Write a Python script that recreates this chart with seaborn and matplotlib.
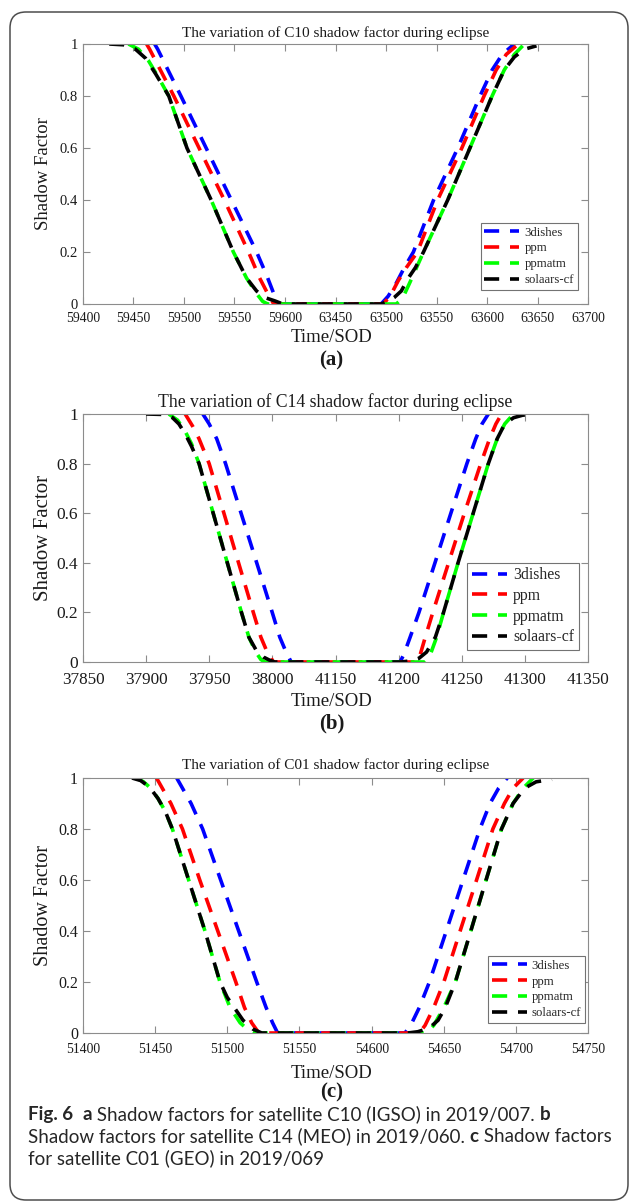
import numpy as np
import matplotlib
matplotlib.use("Agg")
import matplotlib.pyplot as plt
import seaborn as sns
from matplotlib.patches import FancyBboxPatch

# ---------------------------------------------------------------- data
MODELS = ["3dishes", "ppm", "ppmatm", "solaars-cf"]
COLORS = ["#0000ff", "#ff0000", "#00ff00", "#000000"]
Y_TICKS = [0, 0.2, 0.4, 0.6, 0.8, 1]
Y_TICKLABELS = ["0", "0.2", "0.4", "0.6", "0.8", "1"]

# (a) C10 (IGSO), 2019/007
C10_TICKS = [59400, 59450, 59500, 59550, 59600, 63450, 63500, 63550, 63600, 63650, 63700]
C10_3DISHES_T = [59471, 59474, 59497, 59522, 59547, 59572, 59582, 59588, 59593,
                 63495, 63502, 63510, 63518, 63527, 63547, 63571, 63593, 63605, 63615, 63627]
C10_3DISHES_F = [1.0, 0.98, 0.80, 0.60, 0.40, 0.20, 0.11, 0.05, 0.0,
                 0.0, 0.03, 0.08, 0.14, 0.20, 0.40, 0.60, 0.80, 0.90, 0.96, 1.0]
C10_PPM_T = [59463, 59466, 59490, 59515, 59540, 59564, 59575, 59583, 59589,
             63497, 63504, 63512, 63520, 63531, 63551, 63575, 63597, 63609, 63619, 63631]
C10_PPM_F = [1.0, 0.98, 0.80, 0.60, 0.40, 0.20, 0.10, 0.04, 0.0,
             0.0, 0.03, 0.09, 0.14, 0.20, 0.40, 0.60, 0.80, 0.90, 0.96, 1.0]
C10_PPMATM_T = [59445, 59455, 59465, 59475, 59485, 59503, 59527, 59549, 59562, 59572, 59578, 59583,
                63510, 63516, 63522, 63529, 63537, 63561, 63583, 63605, 63617, 63627, 63637]
C10_PPMATM_F = [1.0, 0.98, 0.935, 0.87, 0.80, 0.60, 0.40, 0.20, 0.10, 0.04, 0.01, 0.0,
                0.0, 0.02, 0.07, 0.13, 0.20, 0.40, 0.60, 0.80, 0.90, 0.96, 1.0]
C10_SOLAARS_T = [59426, 59440, 59452, 59462, 59472, 59485, 59503, 59527, 59549, 59562, 59572, 59580, 59590, 59598,
                 63495, 63502, 63508, 63515, 63522, 63529, 63537, 63561, 63583, 63605, 63617, 63627, 63637, 63649]
C10_SOLAARS_F = [1.0, 0.997, 0.98, 0.945, 0.885, 0.80, 0.60, 0.40, 0.20, 0.10, 0.05, 0.025, 0.012, 0.0,
                 0.0, 0.01, 0.025, 0.05, 0.10, 0.14, 0.20, 0.40, 0.60, 0.80, 0.90, 0.95, 0.98, 0.993]

# (b) C14 (MEO), 2019/060
C14_TICKS = [37850, 37900, 37950, 38000, 41150, 41200, 41250, 41300, 41350]
C14_3DISHES_T = [37945, 37950, 37956, 37963, 37975.3, 37987.7, 38000, 38006, 38011, 38015,
                 41201, 41204, 41209, 41216, 41228.7, 41241.3, 41254, 41261, 41266, 41271]
C14_3DISHES_F = [1.0, 0.96, 0.90, 0.80, 0.60, 0.40, 0.20, 0.10, 0.04, 0.0,
                 0.0, 0.03, 0.10, 0.20, 0.40, 0.60, 0.80, 0.90, 0.96, 1.0]
C14_PPM_T = [37931, 37937, 37942, 37950, 37961.7, 37973.3, 37985, 37991, 37996, 38001,
             41214, 41217, 41221, 41227, 41239.5, 41252, 41265, 41272, 41277, 41281.5]
C14_PPM_F = [1.0, 0.95, 0.90, 0.80, 0.60, 0.40, 0.20, 0.10, 0.04, 0.0,
             0.0, 0.03, 0.10, 0.20, 0.40, 0.60, 0.80, 0.90, 0.96, 1.0]
C14_PPMATM_T = [37918, 37925, 37931, 37936, 37942, 37953.2, 37964.4, 37975.6, 37981.5, 37987, 37991, 37994,
                41221, 41225, 41230, 41235.5, 41247, 41259, 41271, 41278, 41284, 41291]
C14_PPMATM_F = [1.0, 0.975, 0.93, 0.88, 0.80, 0.60, 0.40, 0.20, 0.10, 0.04, 0.01, 0.0,
                0.0, 0.03, 0.10, 0.20, 0.40, 0.60, 0.80, 0.90, 0.96, 1.0]
C14_SOLAARS_T = [37900, 37915, 37921, 37926, 37931, 37936, 37942, 37953.2, 37964.4, 37975.6, 37981.5, 37987,
                 37993, 37998, 38002,
                 41202, 41210, 41216, 41222, 41229, 41235.5, 41247, 41259, 41271, 41278, 41284, 41291,
                 41298, 41306]
C14_SOLAARS_F = [1.0, 0.998, 0.985, 0.96, 0.92, 0.87, 0.80, 0.60, 0.40, 0.20, 0.10, 0.05,
                 0.02, 0.007, 0.0,
                 0.0, 0.005, 0.015, 0.04, 0.10, 0.20, 0.40, 0.60, 0.80, 0.90, 0.96, 0.985,
                 0.995, 1.0]

# (c) C01 (GEO), 2019/069
C01_TICKS = [51400, 51450, 51500, 51550, 54600, 54650, 54700, 54750]
C01_3DISHES_T = [51465, 51470, 51475, 51483, 51495.5, 51508, 51520.5, 51527, 51531.5, 51535,
                 54623, 54627, 54633, 54640, 54651.7, 54663.3, 54675, 54682, 54688, 54694]
C01_3DISHES_F = [1.0, 0.95, 0.90, 0.80, 0.60, 0.40, 0.20, 0.10, 0.04, 0.0,
                 0.0, 0.03, 0.10, 0.20, 0.40, 0.60, 0.80, 0.90, 0.96, 1.0]
C01_PPM_T = [51451, 51456, 51461, 51469, 51481, 51493.5, 51506, 51512, 51517, 51522,
             54633, 54637, 54643, 54650, 54661.3, 54672.7, 54684, 54692, 54698, 54705]
C01_PPM_F = [1.0, 0.95, 0.90, 0.80, 0.60, 0.40, 0.20, 0.10, 0.04, 0.0,
             0.0, 0.03, 0.10, 0.20, 0.40, 0.60, 0.80, 0.90, 0.96, 1.0]
C01_PPMATM_T = [51437, 51442, 51447, 51452, 51457, 51462, 51473.3, 51484.6, 51495, 51502, 51509, 51515, 51519,
                54638, 54643, 54650, 54658, 54668.7, 54679.3, 54690, 54698, 54705, 54712]
C01_PPMATM_F = [1.0, 0.985, 0.96, 0.92, 0.87, 0.80, 0.60, 0.40, 0.20, 0.10, 0.04, 0.01, 0.0,
                0.0, 0.03, 0.10, 0.20, 0.40, 0.60, 0.80, 0.90, 0.96, 1.0]
C01_SOLAARS_T = [51434, 51440, 51446, 51452, 51457, 51462, 51473.3, 51484.6, 51495, 51500, 51511, 51518, 51524,
                 54625, 54632, 54640, 54646, 54651, 54658, 54668.7, 54679.3, 54690, 54698, 54706, 54714, 54725]
C01_SOLAARS_F = [1.0, 0.99, 0.965, 0.92, 0.87, 0.80, 0.60, 0.40, 0.20, 0.14, 0.05, 0.015, 0.0,
                 0.0, 0.005, 0.02, 0.05, 0.10, 0.20, 0.40, 0.60, 0.80, 0.90, 0.96, 0.985, 0.995]

PANELS = [
    dict(sat="C10", ticks=C10_TICKS, tag="(a)",
         series=[(C10_3DISHES_T, C10_3DISHES_F), (C10_PPM_T, C10_PPM_F),
                 (C10_PPMATM_T, C10_PPMATM_F), (C10_SOLAARS_T, C10_SOLAARS_F)]),
    dict(sat="C14", ticks=C14_TICKS, tag="(b)",
         series=[(C14_3DISHES_T, C14_3DISHES_F), (C14_PPM_T, C14_PPM_F),
                 (C14_PPMATM_T, C14_PPMATM_F), (C14_SOLAARS_T, C14_SOLAARS_F)]),
    dict(sat="C01", ticks=C01_TICKS, tag="(c)",
         series=[(C01_3DISHES_T, C01_3DISHES_F), (C01_PPM_T, C01_PPM_F),
                 (C01_PPMATM_T, C01_PPMATM_F), (C01_SOLAARS_T, C01_SOLAARS_F)]),
]

# ---------------------------------------------------------------- layout (pixels)
W, H = 632, 1204
# left, top, right, bottom of each axes plus text rows and font sizes
LAYOUT = [
    dict(box=(83, 44, 588, 304), title_y=33, xlabel_y=338, tag_y=360, ylabel_x=44,
         title_fs=11, xtick_fs=9.8, ytick_fs=10.5, ylabel_fs=13.5, leg_fs=9.2, xpad=5.5,
         leg_anchor=(0.980, 0.054)),
    dict(box=(83, 414, 588, 662), title_y=402, xlabel_y=702, tag_y=723, ylabel_x=43,
         title_fs=12.7, xtick_fs=12.3, ytick_fs=12.5, ylabel_fs=15, leg_fs=11.3, xpad=7,
         leg_anchor=(0.982, 0.048)),
    dict(box=(83, 778, 588, 1033), title_y=765, xlabel_y=1073, tag_y=1092, ylabel_x=44,
         title_fs=11, xtick_fs=9.8, ytick_fs=11.5, ylabel_fs=14.5, leg_fs=9.2, xpad=7.5,
         leg_anchor=(0.994, 0.039)),
]

SERIF = ["Liberation Serif", "DejaVu Serif"]
SANS = ["Lato", "DejaVu Sans"]

sns.set_theme(style="ticks")
plt.rcParams["font.family"] = SERIF
plt.rcParams["axes.edgecolor"] = "0.55"
plt.rcParams["axes.linewidth"] = 0.8


def cut_scale(left_tick, right_tick, step=50, k=1e-4):
    """Axis that keeps seconds 1:1 but squeezes the long umbra interval
    between two neighbouring ticks into one tick step."""
    c1 = left_tick + step / 2
    c2 = right_tick - step / 2
    gap = (c2 - c1) * k

    def fwd(t):
        t = np.asarray(t, dtype=float)
        return np.where(t <= c1, t - left_tick,
                        np.where(t >= c2, t - right_tick + step + gap,
                                 step / 2 + (t - c1) * k))

    def inv(u):
        u = np.asarray(u, dtype=float)
        return np.where(u <= step / 2, u + left_tick,
                        np.where(u >= step / 2 + gap, u - step - gap + right_tick,
                                 c1 + (u - step / 2) / k))

    return fwd, inv


fig = plt.figure(figsize=(W / 100, H / 100), dpi=100)

# rounded frame around the whole figure
frame = FancyBboxPatch((10 / 100, (H - 1200) / 100), (628 - 10) / 100, (1200 - 12) / 100,
                       boxstyle="round,pad=0,rounding_size=0.16",
                       transform=fig.dpi_scale_trans, facecolor="none",
                       edgecolor="0.3", linewidth=1.1, zorder=0)
fig.patches.append(frame)

LW = 2.6
DASH = (0, (4.2, 3.0))

for panel, lay in zip(PANELS, LAYOUT):
    l, t, r, b = lay["box"]
    ax = fig.add_axes([l / W, 1 - b / H, (r - l) / W, (b - t) / H])

    for name, color, (tt, ff) in zip(MODELS, COLORS, panel["series"]):
        sns.lineplot(x=tt, y=ff, ax=ax, color=color, linewidth=LW, linestyle=DASH,
                     label=name, estimator=None, sort=False, errorbar=None)

    ticks = panel["ticks"]
    # the two adjacent ticks where the time axis jumps
    jump = int(np.argmax(np.diff(ticks)))
    fwd, inv = cut_scale(ticks[jump], ticks[jump + 1])
    ax.set_xscale("function", functions=(fwd, inv))
    ax.set_xlim(ticks[0], ticks[-1])
    ax.set_xticks(ticks)
    ax.set_xticklabels([str(v) for v in ticks])
    ax.minorticks_off()
    ax.set_ylim(0, 1)
    ax.set_yticks(Y_TICKS)
    ax.set_yticklabels(Y_TICKLABELS)
    ax.set_xlabel("")
    ax.set_ylabel("")

    ax.tick_params(direction="in", length=5, width=0.8, color="0.55",
                   top=True, right=True, labelcolor="0.1")
    ax.tick_params(axis="x", labelsize=lay["xtick_fs"], pad=lay["xpad"])
    ax.tick_params(axis="y", labelsize=lay["ytick_fs"], pad=3.5)
    for sp in ax.spines.values():
        sp.set_color("0.55")
        sp.set_linewidth(0.8)
        sp.set_visible(True)

    fs = lay["leg_fs"]
    leg = ax.legend(loc="lower right", bbox_to_anchor=lay["leg_anchor"], borderaxespad=0,
                    fontsize=fs, frameon=True, fancybox=False, framealpha=1,
                    edgecolor="0.45", borderpad=0.3, handlelength=35 / (fs * 100 / 72),
                    handletextpad=0.4, labelspacing=0.3)
    leg.get_frame().set_linewidth(0.8)

    cx = (l + r) / 2
    fig.text(cx / W, 1 - lay["title_y"] / H,
             f"The variation of {panel['sat']} shadow factor during eclipse",
             ha="center", va="center", fontsize=lay["title_fs"], color="0.1")
    fig.text(lay["ylabel_x"] / W, 1 - (t + b) / 2 / H, "Shadow Factor", rotation=90,
             ha="center", va="center", fontsize=lay["ylabel_fs"], color="0.1")
    fig.text((cx - 4) / W, 1 - lay["xlabel_y"] / H, "Time/SOD", ha="center", va="center",
             fontsize=13.5, color="0.1")
    fig.text((cx - 4) / W, 1 - lay["tag_y"] / H, panel["tag"], ha="center", va="center",
             fontsize=15, fontweight="bold", color="0.1")

# ---------------------------------------------------------------- caption
CAPTION = [
    [("Fig. 6", True), ("  ", False), ("a", True),
     (" Shadow factors for satellite C10 (IGSO) in 2019/007. ", False), ("b", True)],
    [("Shadow factors for satellite C14 (MEO) in 2019/060. ", False), ("c", True),
     (" Shadow factors", False)],
    [("for satellite C01 (GEO) in 2019/069", False)],
]
# left edge, first baseline, line step (pixels) and size of the caption text
CAP_X, CAP_BASE0, CAP_DY, CAP_FS = 28, 1120, 22, 13.5

renderer = fig.canvas.get_renderer()


def run_width(text, bold):
    weight = "bold" if bold else "normal"
    probe = fig.text(0, 0, text + "|", fontsize=CAP_FS, family=SANS, fontweight=weight)
    bar = fig.text(0, 0, "|", fontsize=CAP_FS, family=SANS, fontweight=weight)
    w = probe.get_window_extent(renderer).width - bar.get_window_extent(renderer).width
    probe.remove()
    bar.remove()
    return w


for i, line in enumerate(CAPTION):
    x = CAP_X
    y = 1 - (CAP_BASE0 + i * CAP_DY) / H
    for text, bold in line:
        fig.text(x / W, y, text, fontsize=CAP_FS, family=SANS, ha="left", va="baseline",
                 fontweight="bold" if bold else "normal", color="0.15")
        x += run_width(text, bold)

fig.savefig("out.png", dpi=100)
